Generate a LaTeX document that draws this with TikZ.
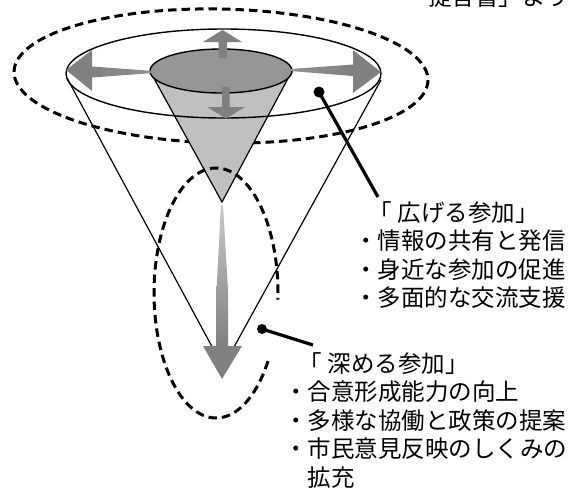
\documentclass[tikz,border=0pt]{standalone}
\usepackage{fontspec}
\setmainfont{Noto Sans CJK JP}
\definecolor{agray}{RGB}{128,128,128}
\definecolor{egray}{RGB}{150,150,150}
\definecolor{cgray}{RGB}{192,192,192}
\definecolor{fgray}{RGB}{200,200,200}
\begin{document}
\begin{tikzpicture}[x=1pt,y=-1pt,
  outline/.style={draw=black,line width=1.4pt},
  conel/.style={draw=black,line width=1.2pt},
  dashring/.style={draw=black,line width=3pt,dash pattern=on 8.5pt off 5pt},
  leader/.style={draw=black,line width=3.2pt},
  arrowfill/.style={fill=agray,draw=none},
  txt/.style={inner sep=0pt,anchor=base west,font=\fontsize{23.5}{28.5}\selectfont}
]
\useasboundingbox (0,0) rectangle (581,488);
% outer dashed ring
\draw[dashring] plot[domain=0:360,samples=140] ({221+207*cos(\x)},{76+67*sin(\x)+4*cos(\x)});
% inner cone
\coordinate (il) at (151,73);
\coordinate (ir) at (292,71);
\coordinate (iapex) at (222,202);
\fill[cgray] (il) -- (iapex) -- (ir) -- cycle;
\draw[conel] (il) -- (iapex) -- (ir);
% big ellipse
\draw[outline] (223.5,73.5) ellipse [x radius=157.5pt, y radius=44.5pt];
% inner ellipse
\draw[outline,fill=egray] (221,71) ellipse [x radius=71pt, y radius=22pt];
% big cone lines
\coordinate (bl) at (67,78);
\coordinate (br) at (381,80);
\coordinate (bapex) at (223,367);
\draw[conel] (bl) -- (bapex) -- (br);
% gray arrows
\shade[left color=agray,right color=egray] (167,72) -- (92,66.5) -- (92,77.5) -- cycle;
\fill[arrowfill] (92,67.5) -- (92,50) -- (66,70) -- (92,91) -- (92,76.5) -- cycle;
\shade[left color=egray,right color=agray] (277,70) -- (353,64.5) -- (353,76) -- cycle;
\fill[arrowfill] (353,65.5) -- (353,50) -- (381,72) -- (353,93) -- (353,75) -- cycle;
\fill[arrowfill] (218.5,58) -- (218.5,42) -- (203,42) -- (222.5,30) -- (242,42) -- (227,42) -- (227,58) -- cycle;
\fill[arrowfill] (222,87) -- (229.5,87) -- (229.5,107) -- (245,107) -- (226,118.5) -- (207,107) -- (222,107) -- cycle;
% deep dashed ring
\draw[dashring] plot[domain=33:363,samples=120] ({216+62*cos(\x)},{293+125*sin(\x)});
% central arrow
\shade[top color=fgray,bottom color=agray] (221,205) -- (223,205) -- (228,290) -- (228,346.5) -- (216.5,346.5) -- (216.5,290) -- cycle;
\fill[arrowfill] (203,346) -- (242,346) -- (222,379) -- cycle;
% leaders
\coordinate (d1) at (319,92);
\coordinate (e1) at (378,197);
\coordinate (d2) at (262,329);
\coordinate (e2) at (313,345);
\draw[leader] (d1) -- (e1);
\fill (d1) circle (5.5pt);
\draw[leader] (d2) -- (e2);
\fill (d2) circle (5pt);
% texts
\node[txt] (top) at (428,5) {提言書」より};
\node[txt] (t1) at (354,221) {\begin{tabular}[t]{@{}l@{}}\hspace*{0.6em}「\hspace{0.25em}広げる参加」\\ ・情報の共有と発信\\ ・身近な参加の促進\\ ・多面的な交流支援\end{tabular}};
\node[txt] (t2) at (284,372) {\begin{tabular}[t]{@{}l@{}}\hspace*{0.6em}「\hspace{0.25em}深める参加」\\ ・合意形成能力の向上\\ ・多様な協働と政策の提案\\ ・市民意見反映のしくみの\\ \hspace*{1em}拡充\end{tabular}};
\end{tikzpicture}
\end{document}
